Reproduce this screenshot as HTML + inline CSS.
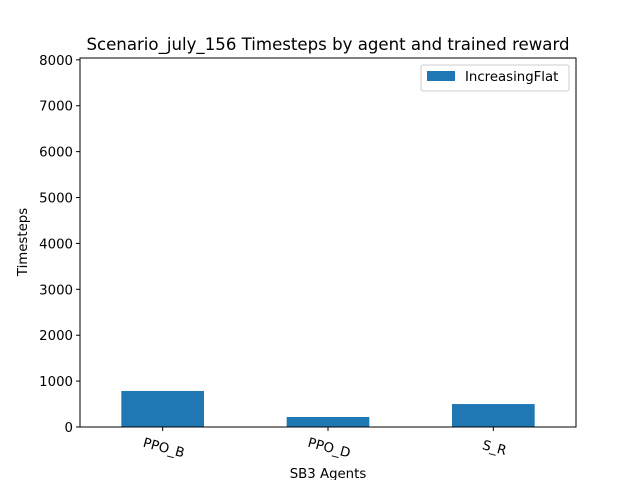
<!DOCTYPE html>
<html><head><meta charset="utf-8"><style>
body{margin:0;background:#fff;}
svg text{font-family:"DejaVu Sans","Liberation Sans",sans-serif;fill:#000;}
</style></head><body>
<svg id="chart" width="640" height="480" xmlns="http://www.w3.org/2000/svg">
<rect width="640" height="480" fill="#fff"/>
<text x="328" y="50" font-size="16.6" text-anchor="middle">Scenario_july_156 Timesteps by agent and trained reward</text>
<g id="bars"></g>
<g id="yticks"></g>
<g id="xticks"></g>
<rect x="80" y="58" width="496" height="369" fill="none" stroke="#000" stroke-width="1"/>
<text transform="translate(27,242) rotate(-90)" font-size="13.3" text-anchor="middle">Timesteps</text>
<text x="328" y="478" font-size="13.3" text-anchor="middle">SB3 Agents</text>
<g>
<rect x="421" y="65" width="148" height="26" fill="#fff" stroke="#ccc" rx="2"/>
<rect x="427" y="71" width="28" height="10" fill="#1f77b4"/>
<text x="465" y="81" font-size="13.3">IncreasingFlat</text>
</g>
</svg>
<script>
const categories=["PPO_B","PPO_D","S_R"];
const values=[785,218,500];
const yTicks=[0,1000,2000,3000,4000,5000,6000,7000,8000];
const L=80,R=576,T=58,B=427,yMax=8040;
function y(v){return B-(v/yMax)*(B-T);}
function x(i){return L+(i+0.5)*(R-L)/categories.length;}
const ns="http://www.w3.org/2000/svg";
const bw=0.5*(R-L)/categories.length;
const bars=document.getElementById('bars'),yt=document.getElementById('yticks'),xt=document.getElementById('xticks');
values.forEach((v,i)=>{
 const r=document.createElementNS(ns,'rect');
 r.setAttribute('x',x(i)-bw/2);r.setAttribute('y',y(v));r.setAttribute('width',bw);r.setAttribute('height',B-y(v));r.setAttribute('fill','#1f77b4');
 
 
 bars.appendChild(r);
});
yTicks.forEach(t=>{
 const l=document.createElementNS(ns,'line');
 l.setAttribute('x1',L-4);l.setAttribute('x2',L);l.setAttribute('y1',y(t));l.setAttribute('y2',y(t));l.setAttribute('stroke','#000');
 
 
 yt.appendChild(l);
 const tx=document.createElementNS(ns,'text');
 tx.setAttribute('x',L-7);tx.setAttribute('y',y(t)+5);tx.setAttribute('font-size','13.3');tx.setAttribute('text-anchor','end');tx.textContent=t;
 
 
 yt.appendChild(tx);
});
categories.forEach((c,i)=>{
 const l=document.createElementNS(ns,'line');
 l.setAttribute('x1',x(i));l.setAttribute('x2',x(i));l.setAttribute('y1',B);l.setAttribute('y2',B+4);l.setAttribute('stroke','#000');
 
 
 xt.appendChild(l);
 const tx=document.createElementNS(ns,'text');
 tx.setAttribute('transform','translate('+x(i)+','+(B+25)+') rotate(15)');
 tx.setAttribute('font-size','13.3');tx.setAttribute('text-anchor','middle');tx.textContent=c;
 
 
 xt.appendChild(tx);
});
</script>
</body></html>
